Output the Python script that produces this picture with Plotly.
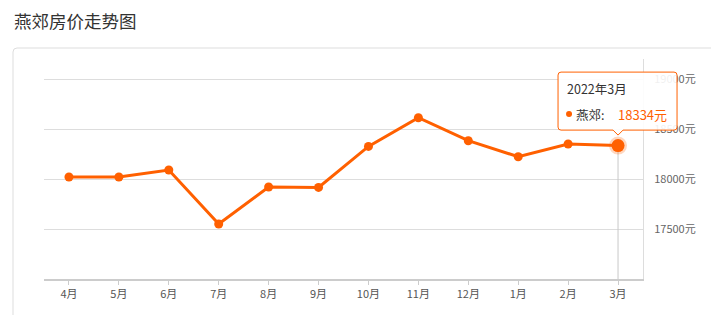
import plotly.graph_objects as go

months = ["4月", "5月", "6月", "7月", "8月", "9月", "10月", "11月", "12月", "1月", "2月", "3月"]
prices = [18020, 18020, 18090, 17550, 17920, 17916, 18326, 18613, 18383, 18223, 18350, 18334]
y_ticks = [17500, 18000, 18500, 19000]
title_text = "燕郊房价走势图"
tip_title = "2022年3月"
series_name = "燕郊"

W, H = 711, 315
L, R, T, B = 44, 68, 59, 36
PW, PH = W - L - R, H - T - B
YMIN, YMAX = 17000, 19200
ORANGE = "#FF6000"
FONT = "Noto Sans CJK SC"


def px(x):
    return (x - L) / PW


def py(y):
    return (H - B - y) / PH


fig = go.Figure()
fig.add_trace(go.Scatter(
    x=months, y=prices, mode="lines+markers",
    line=dict(color=ORANGE, width=3),
    marker=dict(color=ORANGE, size=9),
    hoverinfo="skip", showlegend=False,
))

# highlighted last point
hi = len(months) - 1
fig.add_trace(go.Scatter(
    x=[months[hi], months[hi]], y=[prices[hi], YMIN], mode="lines",
    line=dict(color="#c8c8c8", width=1), hoverinfo="skip", showlegend=False,
))
fig.add_trace(go.Scatter(
    x=[months[hi]], y=[prices[hi]], mode="markers",
    marker=dict(color=ORANGE, size=13, line=dict(color="rgba(255,96,0,0.25)", width=5)),
    hoverinfo="skip", showlegend=False,
))

# pixel position of highlighted point via axis scale
pt_x = L + (hi + 0.5) / len(months) * PW
pt_y = (H - B) - (prices[hi] - YMIN) / (YMAX - YMIN) * PH

shapes = []
# panel border (rounded)
x0, y0, x1, y1, r = 13, 48, 730, 330, 4
shapes.append(dict(
    type="path", xref="paper", yref="paper",
    path=(f"M {px(x0)},{py(y1)} L {px(x0)},{py(y0 + r)} "
          f"Q {px(x0)},{py(y0)} {px(x0 + r)},{py(y0)} L {px(x1)},{py(y0)}"),
    line=dict(color="#dddddd", width=1), layer="below",
))

# tooltip box with pointer
bl, br = pt_x - 60, pt_x + 59
bb = pt_y - 15.5
bt = bb - 58
rr = 3
tip = 5
path = (f"M {px(bl + rr)},{py(bt)} L {px(br - rr)},{py(bt)} "
        f"Q {px(br)},{py(bt)} {px(br)},{py(bt + rr)} "
        f"L {px(br)},{py(bb - rr)} Q {px(br)},{py(bb)} {px(br - rr)},{py(bb)} "
        f"L {px(pt_x + tip)},{py(bb)} L {px(pt_x)},{py(bb + tip)} L {px(pt_x - tip)},{py(bb)} "
        f"L {px(bl + rr)},{py(bb)} Q {px(bl)},{py(bb)} {px(bl)},{py(bb - rr)} "
        f"L {px(bl)},{py(bt + rr)} Q {px(bl)},{py(bt)} {px(bl + rr)},{py(bt)} Z")
shapes.append(dict(
    type="path", xref="paper", yref="paper", path=path,
    fillcolor="rgba(255,255,255,0.9)", line=dict(color=ORANGE, width=1), layer="above",
))
# dot in tooltip
dx, dy, dr = bl + 11, bt + 42, 3
shapes.append(dict(
    type="circle", xref="paper", yref="paper",
    x0=px(dx - dr), x1=px(dx + dr), y0=py(dy + dr), y1=py(dy - dr),
    fillcolor=ORANGE, line=dict(width=0), layer="above",
))

annotations = [
    dict(text=title_text, xref="paper", yref="paper", x=px(12), y=py(20),
         xanchor="left", yanchor="middle", showarrow=False,
         font=dict(family=FONT, size=17.5, color="#333333")),
    dict(text=tip_title, xref="paper", yref="paper", x=px(bl + 7), y=py(bt + 16),
         xanchor="left", yanchor="middle", showarrow=False,
         font=dict(family=FONT, size=12.5, color="#333333")),
    dict(text=series_name + ":", xref="paper", yref="paper", x=px(bl + 16), y=py(dy),
         xanchor="left", yanchor="middle", showarrow=False,
         font=dict(family=FONT, size=12.5, color="#333333")),
    dict(text=f"{prices[hi]}元", xref="paper", yref="paper", x=px(bl + 58), y=py(dy),
         xanchor="left", yanchor="middle", showarrow=False,
         font=dict(family=FONT, size=13, color=ORANGE)),
]

fig.update_layout(
    width=W, height=H,
    margin=dict(l=L, r=R, t=T, b=B, pad=0),
    paper_bgcolor="white", plot_bgcolor="white",
    font=dict(family=FONT, color="#555555", size=11),
    shapes=shapes, annotations=annotations,
    xaxis=dict(
        type="category", categoryorder="array", categoryarray=months,
        showgrid=False, showline=True, linecolor="#cccccc", linewidth=2,
        ticks="outside", ticklen=4, tickcolor="#cccccc", tickwidth=1,
        tickfont=dict(size=11, color="#555555"), fixedrange=True,
        range=[-0.5, len(months) - 0.5], zeroline=False,
    ),
    yaxis=dict(
        side="right", range=[YMIN, YMAX], tickvals=y_ticks,
        ticktext=[f"{v}元" for v in y_ticks],
        showgrid=True, gridcolor="#dddddd", gridwidth=1,
        showline=True, linecolor="#dddddd", linewidth=1,
        ticks="", ticklabelstandoff=8,
        tickfont=dict(size=11, color="#666666"), zeroline=False,
    ),
)

fig.write_html("out.html")
